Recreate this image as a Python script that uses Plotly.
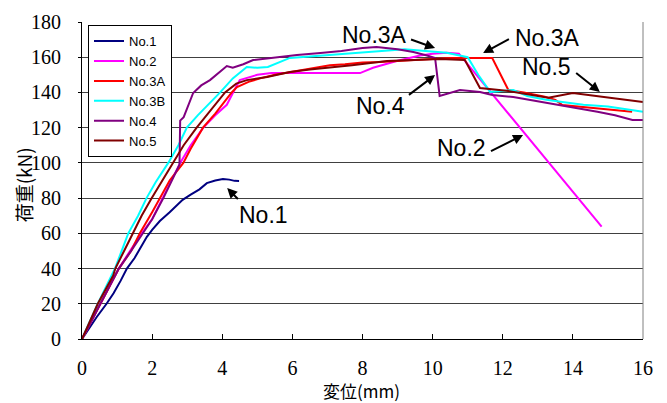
import plotly.graph_objects as go

# ---- data ----
names = ["No.1", "No.2", "No.3A", "No.3B", "No.4", "No.5"]
colors = ["#000080", "#FF00FF", "#FF0000", "#00FFFF", "#800080", "#800000"]

x1 = [0, 0.2, 0.42, 0.7, 0.9, 1.1, 1.28, 1.5, 1.7, 1.85, 2.0, 2.22, 2.5, 2.87, 3.1, 3.35, 3.56, 3.8, 4.02, 4.2, 4.35, 4.48]
y1 = [0, 6, 12.5, 20, 26, 33, 40, 46, 53, 58, 62, 67, 72, 79, 82, 85, 88.5, 90, 90.8, 90.5, 89.8, 89.7]

x2 = [0, 0.5, 1.05, 1.4, 1.7, 2.0, 2.3, 2.55, 2.8, 3.1, 3.46, 3.8, 4.13, 4.31, 4.5, 5.0, 5.4, 6.2, 7.0, 7.93, 8.3, 9.0, 9.64, 10.0, 10.4, 10.75, 14.82]
y2 = [0, 19, 40, 51, 60, 68, 80, 90, 100, 110, 120, 127, 133, 140, 147, 150, 151, 151, 151, 151, 154, 158, 161, 162, 162.5, 162, 63.8]

x3a = [0, 0.5, 1.05, 1.4, 1.65, 2.0, 2.22, 2.5, 2.89, 3.1, 3.45, 3.8, 4.27, 4.42, 4.75, 5.08, 5.5, 5.93, 6.5, 7.07, 7.5, 8.0, 8.5, 9.0, 10.0, 10.5, 11.0, 11.4, 11.7, 12.16, 12.6, 13.2, 13.5, 13.7, 14.2, 14.8, 15.2, 15.69]
y3a = [0, 19, 40, 50, 60, 72, 80, 90, 100, 108, 120, 128, 140, 143, 146, 148, 150, 151.6, 153.5, 155.5, 156, 157, 157.3, 158, 159, 159.5, 159.6, 159.6, 159.5, 141.4, 140, 137.6, 135.7, 132.9, 132, 131, 130, 129]

x3b = [0, 0.45, 0.94, 1.32, 1.6, 1.84, 2.1, 2.46, 2.75, 2.99, 3.3, 3.6, 3.94, 4.3, 4.7, 5.0, 5.3, 5.93, 6.5, 7.07, 7.5, 8.0, 8.7, 9.2, 9.8, 10.4, 11.0, 11.3, 11.64, 12.3, 12.7, 13.2, 13.7, 14.3, 15.0, 15.5, 16.0]
y3b = [0, 20, 40, 60, 70, 80, 89, 100, 110, 120, 127, 133, 140, 148, 154.5, 154, 154.5, 159.6, 160.5, 161.3, 162, 163, 164, 164.5, 163.5, 162.5, 160, 150, 140.3, 141.4, 138, 136, 134.6, 133, 132, 130.5, 129]

x4 = [0, 0.5, 1.05, 1.4, 1.74, 2.0, 2.32, 2.55, 2.78, 2.8, 2.9, 3.17, 3.4, 3.65, 3.9, 4.13, 4.3, 4.6, 4.88, 5.5, 6.13, 6.8, 7.4, 8.0, 8.4, 9.0, 9.45, 9.84, 10.07, 10.2, 10.78, 11.35, 11.7, 12.3, 13.0, 13.6, 14.2, 14.7, 15.2, 15.7, 16.0]
y4 = [0, 19, 40, 50, 60, 68, 80, 90, 99, 124, 126, 139.7, 144, 147, 151, 155, 154, 156, 158.4, 160, 161.3, 162.4, 163.5, 165.2, 165.8, 164.5, 163, 161, 159.6, 138, 141.4, 140.3, 138.5, 137.4, 135, 132.9, 131, 129, 127, 124.4, 124.4]

x5 = [0, 0.45, 0.89, 0.95, 1.2, 1.46, 1.7, 1.99, 2.3, 2.6, 2.9, 3.27, 3.6, 4.08, 4.4, 4.7, 5.28, 5.93, 6.5, 7.07, 7.7, 8.7, 9.5, 10.2, 10.92, 11.35, 12.1, 12.7, 13.3, 14.0, 14.5, 15.0, 15.5, 16.0]
y5 = [0, 20, 36, 40, 50, 60, 70, 80, 90, 100, 110, 120, 128, 140, 145, 147, 148.8, 151.6, 153, 154, 155.5, 157.8, 158.5, 159, 158.4, 142.5, 141, 139, 137, 139.7, 138.5, 137, 136, 134.6]

xs = [x1, x2, x3a, x3b, x4, x5]
ys = [y1, y2, y3a, y3b, y4, y5]

x_ticks = [0, 2, 4, 6, 8, 10, 12, 14, 16]
y_ticks = [0, 20, 40, 60, 80, 100, 120, 140, 160, 180]
x_title = "変位(mm)"
y_title = "荷重(kN)"

# annotation labels: text, text position, arrow tail, arrow tip
ann_text = ["No.1", "No.3A", "No.3A", "No.5", "No.4", "No.2"]
ann_pos = [(5.19, 70.4), (8.33, 172.6), (13.29, 170.9), (13.26, 154.5), (8.5, 132.3), (10.81, 108.5)]
ann_tail = [(4.56, 77.2), (9.27, 170.9), (12.29, 171.5), (13.98, 152.8), (9.21, 136.9), (11.55, 105.6)]
ann_tip = [(4.14, 85.7), (10.07, 165.2), (11.44, 162.4), (14.77, 140.3), (10.07, 149.9), (12.58, 115.8)]

SERIF = "Liberation Serif"
SANS = "Liberation Sans"
CJK = "Noto Sans CJK JP"

fig = go.Figure()
for n, c, xx, yy in zip(names, colors, xs, ys):
    fig.add_trace(go.Scatter(x=xx, y=yy, mode="lines", name=n,
                             line=dict(color=c, width=2)))

annotations = []
for t, p, tl, tp in zip(ann_text, ann_pos, ann_tail, ann_tip):
    annotations.append(dict(x=p[0], y=p[1], xref="x", yref="y", text=t, showarrow=False,
                            xanchor="center", yanchor="middle",
                            font=dict(family=SANS, size=23, color="black")))
    annotations.append(dict(x=tp[0], y=tp[1], ax=tl[0], ay=tl[1], xref="x", yref="y",
                            axref="x", ayref="y", text=" ", showarrow=True,
                            arrowhead=2, arrowsize=1, arrowwidth=2, arrowcolor="black"))

# axis titles
annotations.append(dict(x=0.498, y=-0.162, xref="paper", yref="paper", text=x_title,
                        xanchor="center", yanchor="middle",
                        showarrow=False, font=dict(family=CJK, size=17, color="black")))
annotations.append(dict(x=-0.105, y=0.485, xref="paper", yref="paper", text=y_title,
                        xanchor="center", yanchor="middle",
                        textangle=-90, showarrow=False,
                        font=dict(family=CJK, size=19, color="black")))

fig.update_layout(
    template="none",
    font=dict(family=SERIF, size=20, color="black"),
    width=667, height=403,
    margin=dict(l=82, r=24, t=22, b=64),
    paper_bgcolor="white", plot_bgcolor="white",
    showlegend=True,
    legend=dict(x=0.0107, y=0.99, xanchor="left", yanchor="top",
                bgcolor="white", bordercolor="black", borderwidth=1,
                font=dict(family=SANS, size=13, color="black"),
                tracegroupgap=0, itemwidth=30),
    annotations=annotations,
    shapes=[dict(type="line", xref="paper", yref="paper", x0=1, x1=1, y0=0, y1=1,
                 line=dict(color="#808080", width=1))],
)

fig.update_xaxes(range=[0, 16], tickmode="array", tickvals=x_ticks, ticktext=[str(v) for v in x_ticks],
                 ticks="inside", ticklen=5, tickcolor="black",
                 showline=True, linecolor="black", linewidth=1, showgrid=False, zeroline=False,
                 automargin=False, ticklabelstandoff=11,
                 tickfont=dict(family=SERIF, size=20, color="black"))
fig.update_yaxes(range=[0, 180], tickmode="array", tickvals=y_ticks, ticktext=[str(v) for v in y_ticks],
                 ticks="outside", ticklen=3, tickcolor="black",
                 showline=True, linecolor="black", linewidth=1, showgrid=True,
                 gridcolor="#404040", gridwidth=1, zeroline=False,
                 automargin=False, ticklabelstandoff=13,
                 tickfont=dict(family=SERIF, size=20, color="black"))

fig.write_html("out.html", config={"displayModeBar": False},
               post_script="document.body.style.margin='0';")
